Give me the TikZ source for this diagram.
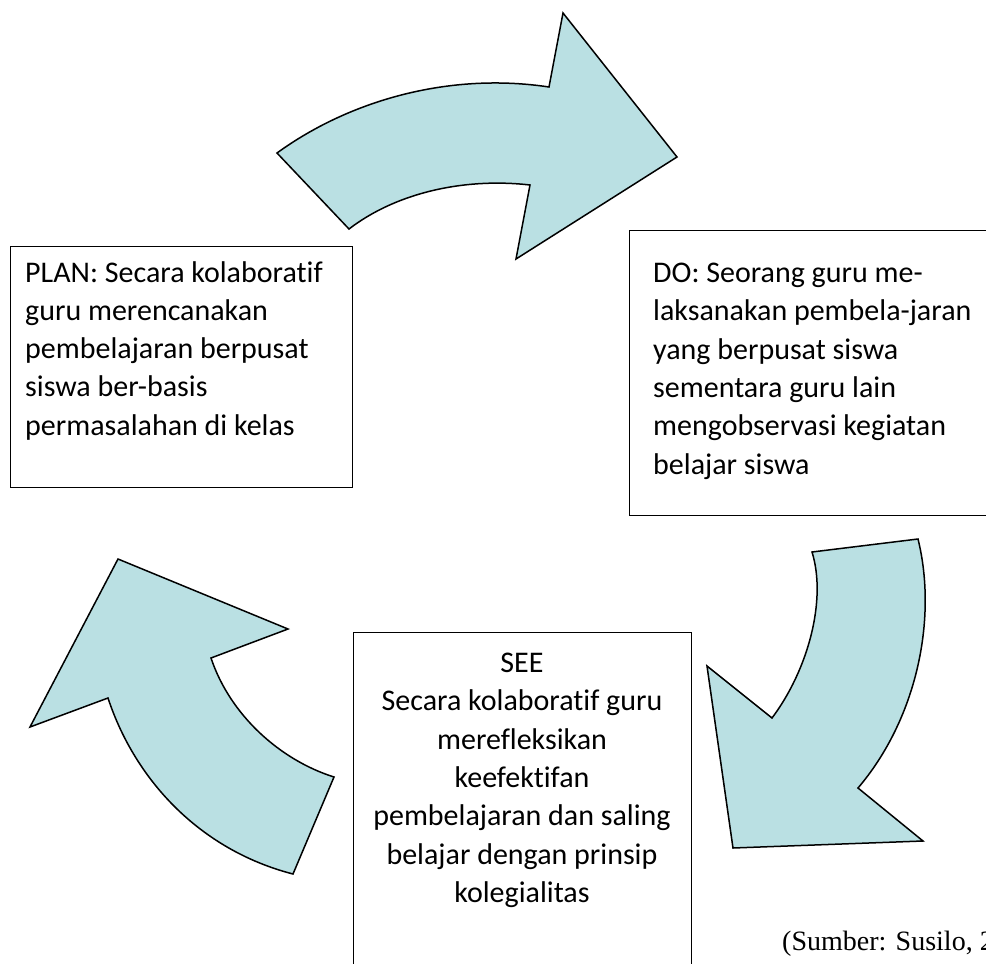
\documentclass[tikz,border=0pt]{standalone}
\usepackage{fontspec}
\setmainfont{Carlito}[Ligatures=NoCommon]
\newfontfamily\srcfont{Liberation Serif}
\definecolor{arrowfill}{RGB}{186,224,227}
\begin{document}
\begin{tikzpicture}[x=1pt,y=-1pt,
  arrowshape/.style={draw=black, line width=1.5pt, fill=arrowfill, line join=miter},
  boxshape/.style={draw=black, line width=1.4pt, rectangle, inner sep=0pt, anchor=north west},
  boxtext/.style={inner sep=0pt, font=\fontsize{30}{38.3}\selectfont},
  srctext/.style={inner sep=0pt, anchor=base west, font=\srcfont\fontsize{28}{30}\selectfont}]
\useasboundingbox (0,0) rectangle (986,964);

% arrows
\draw[arrowshape] (277,153) .. controls (350,100) and (450,72) .. (549,87) -- (563,13) -- (677,157) -- (516,259) -- (530,185) .. controls (470,178) and (400,190) .. (349,229) -- cycle;
\draw[arrowshape] (812,552) -- (918,539) .. controls (938,620) and (916,720) .. (858,788) -- (923,841) -- (733,848) -- (707,666) -- (772,718) .. controls (808,670) and (827,600) .. (812,552) -- cycle;
\draw[arrowshape] (118,559) -- (288,629) -- (211,658) .. controls (230,715) and (280,760) .. (334,777) -- (293,874) .. controls (200,850) and (135,780) .. (108,698) -- (30,727) -- cycle;

% boxes
\node[boxshape, minimum width=342pt, minimum height=241pt] (plan) at (10,246) {};
\node[boxshape, minimum width=400pt, minimum height=285pt] (do) at (629,230) {};
\node[boxshape, minimum width=338pt, minimum height=400pt] (see) at (353,632) {};

% texts
\node[boxtext, anchor=north west, align=left] (plantext) at (25,261)
  {PLAN: Secara kolaboratif\\guru merencanakan\\pembelajaran berpusat\\siswa ber-basis\\permasalahan di kelas};
\node[boxtext, anchor=north west, align=left] (dotext) at (653,263)
  {DO: Seorang guru me-\\laksanakan pembela-jaran\\yang berpusat siswa\\sementara guru lain\\mengobservasi kegiatan\\belajar siswa};
\node[boxtext, anchor=north, align=center] (seetext) at (522,653)
  {SEE\\Secara kolaboratif guru\\merefleksikan\\keefektifan\\pembelajaran dan saling\\belajar dengan prinsip\\kolegialitas};

\node[srctext] (source) at (782,950) {(Sumber: Susilo, 2};
\end{tikzpicture}
\end{document}
